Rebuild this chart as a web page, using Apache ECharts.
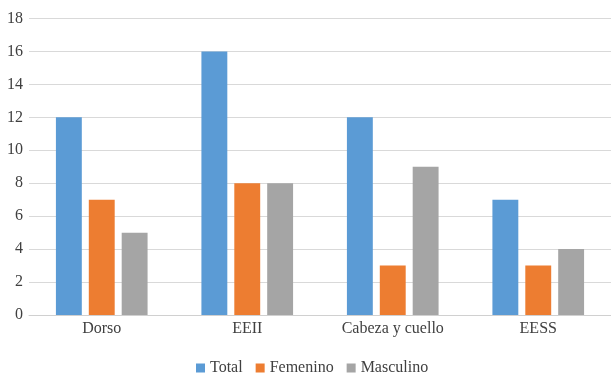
<!DOCTYPE html>
<html>
<head>
<meta charset="utf-8">
<style>
  html, body { margin: 0; padding: 0; background: #fff; }
  #chart { width: 611px; height: 375px; }
</style>
<script src="https://cdn.jsdelivr.net/npm/echarts@6/dist/echarts.min.js"></script>
</head>
<body>
<div id="chart"></div>
<script>
// Body regions and case counts
const categories = ['Dorso', 'EEII', 'Cabeza y cuello', 'EESS'];
const total = [12, 16, 12, 7];
const femenino = [7, 8, 3, 3];
const masculino = [5, 8, 9, 4];
const seriesNames = ['Total', 'Femenino', 'Masculino'];
const colors = ['#5B9BD5', '#ED7D31', '#A5A5A5'];

const font = 'Liberation Serif';

const chart = echarts.init(document.getElementById('chart'), null, { renderer: 'canvas' });

chart.setOption({
  animation: false,
  color: colors,
  textStyle: { fontFamily: font },
  grid: { left: 29, right: -4, top: 18.5, bottom: 60, containLabel: false },
  legend: {
    data: seriesNames,
    top: 355,
    left: 191,
    itemWidth: 9,
    itemHeight: 9,
    itemGap: 13,
    icon: 'rect',
    textStyle: { fontFamily: font, fontSize: 16, color: '#404040' }
  },
  xAxis: {
    type: 'category',
    data: categories,
    axisLine: { lineStyle: { color: '#d0d0d0', width: 1 } },
    axisTick: { show: false },
    axisLabel: { fontFamily: font, fontSize: 16, color: '#404040', margin: 6 }
  },
  yAxis: {
    type: 'value',
    min: 0,
    max: 18,
    interval: 2,
    axisLine: { show: false },
    axisTick: { show: false },
    splitLine: { lineStyle: { color: '#d9d9d9', width: 1 } },
    axisLabel: { fontFamily: font, fontSize: 16, color: '#404040', margin: 6 }
  },
  series: [
    { name: seriesNames[0], type: 'bar', data: total, barGap: '27%', barCategoryGap: '37%' },
    { name: seriesNames[1], type: 'bar', data: femenino, barGap: '27%', barCategoryGap: '37%' },
    { name: seriesNames[2], type: 'bar', data: masculino, barGap: '27%', barCategoryGap: '37%' }
  ]
});
</script>
</body>
</html>
